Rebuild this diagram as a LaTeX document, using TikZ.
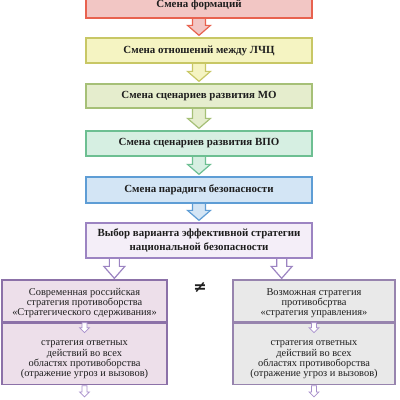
\documentclass[tikz,border=0pt]{standalone}
\usepackage{fontspec}
\setmainfont{Liberation Serif}
\newfontfamily\symfnt{DejaVu Sans}
\usetikzlibrary{calc,backgrounds}
\definecolor{aF}{HTML}{F2C6C4}\definecolor{aD}{HTML}{E8624F}
\definecolor{bF}{HTML}{F5F4C2}\definecolor{bD}{HTML}{C8C765}
\definecolor{cF}{HTML}{E5EDCD}\definecolor{cD}{HTML}{A6C077}
\definecolor{dF}{HTML}{D6EFE2}\definecolor{dD}{HTML}{6DBF92}
\definecolor{eF}{HTML}{D3E5F5}\definecolor{eD}{HTML}{5E9DD5}
\definecolor{fF}{HTML}{F4EEF8}\definecolor{fD}{HTML}{9C84C2}
\definecolor{lF}{HTML}{EDDFEA}\definecolor{lD}{HTML}{8C71A8}
\definecolor{rF}{HTML}{E9E9E9}\definecolor{rD}{HTML}{9784AE}
\definecolor{sD}{HTML}{A890CC}
\definecolor{txt}{HTML}{1E1E1E}
\newcommand\barrow[6]{\path[#3] let \p1=(#1), \p2=(#2) in
  (\x1-#4,\y1) -- (\x1+#4,\y1) -- (\x1+#4,\y2+#6) -- (\x1+#5,\y2+#6) --
  (\x1,\y2) -- (\x1-#5,\y2+#6) -- (\x1-#4,\y2+#6) -- cycle;}
\tikzset{
  topbox/.style={rectangle, minimum width=226pt, line width=1.3pt, inner sep=0pt,
    align=center, text=txt, font=\bfseries\fontsize{10.9}{14}\selectfont},
  lowbox/.style={rectangle, line width=1.3pt, inner sep=0pt},
  lowtext/.style={inner sep=0pt, align=center, text=txt, font=\fontsize{10.4}{10.2}\selectfont},
  bigarr/.style={line width=1.2pt, line join=miter},
  smallarr/.style={draw=sD, fill=white, line width=0.7pt, line join=miter}
}
\begin{document}
\begin{tikzpicture}[x=1pt,y=-1pt]
\useasboundingbox (0,0) rectangle (400,400);
\node[topbox, draw=aD, fill=aF, minimum height=26pt] (b1) at (199,5) {Смена формаций};
\node[topbox, draw=bD, fill=bF, minimum height=25pt] (b2) at (199,50.5) {Смена отношений между ЛЧЦ};
\node[topbox, draw=cD, fill=cF, minimum height=24pt] (b3) at (199,96) {Смена сценариев развития МО};
\node[topbox, draw=dD, fill=dF, minimum height=25pt] (b4) at (199,143.5) {Смена сценариев развития ВПО};
\node[topbox, draw=eD, fill=eF, minimum height=26pt] (b5) at (199,190) {Смена парадигм безопасности};
\node[topbox, draw=fD, fill=fF, minimum height=35pt] (b6) at (199,240.5) {Выбор варианта эффективной стратегии\\национальной безопасности};
\node[lowbox, draw=lD, fill=lF, minimum width=165pt, minimum height=42pt] (L1) at (84.5,301) {};
\node[lowbox, draw=lD, fill=lF, minimum width=165pt, minimum height=61pt, anchor=north] (L2) at (L1.south) {};
\node[lowbox, draw=rD, fill=rF, minimum width=162pt, minimum height=42pt] (R1) at (314,301) {};
\node[lowbox, draw=rD, fill=rF, minimum width=162pt, minimum height=61pt, anchor=north] (R2) at (R1.south) {};
\node[lowtext] (L1t) at ([yshift=-2pt]L1.center) {Современная российская\\стратегия противоборства\\«Стратегического сдерживания»};
\node[lowtext] (L2t) at ([yshift=-6pt]L2.center) {стратегия ответных\\действий во всех\\областях противоборства\\(отражение угроз и вызовов)};
\node[lowtext] (R1t) at ([yshift=-2pt]R1.center) {Возможная стратегия\\противобсртва\\«стратегия управления»};
\node[lowtext] (R2t) at ([yshift=-6pt]R2.center) {стратегия ответных\\действий во всех\\областях противоборства\\(отражение угроз и вызовов)};
\node[text=txt, font=\symfnt\bfseries\fontsize{16}{16}\selectfont] (neq) at (200,287) {≠};
\coordinate (s1) at ([xshift=29pt]b6.south west);
\coordinate (s2) at ([xshift=-31pt]b6.south east);
\coordinate (e1) at ([yshift=-12pt]L2.south);
\coordinate (e2) at ([yshift=-12pt]R2.south);
\begin{scope}[on background layer]
\fill[white] (0,0) rectangle (400,400);
\barrow{[yshift=2pt]b1.south}{[yshift=2pt]b2.north}{bigarr,draw=aD,fill=aF}{6.5pt}{11.5pt}{10pt}
\barrow{[yshift=2pt]b2.south}{[yshift=2pt]b3.north}{bigarr,draw=bD,fill=bF}{6.5pt}{11.5pt}{10pt}
\barrow{[yshift=2pt]b3.south}{[yshift=2pt]b4.north}{bigarr,draw=cD,fill=cF}{6.5pt}{11.5pt}{10pt}
\barrow{[yshift=2pt]b4.south}{[yshift=2pt]b5.north}{bigarr,draw=dD,fill=dF}{6.5pt}{11.5pt}{10pt}
\barrow{[yshift=2pt]b5.south}{[yshift=2pt]b6.north}{bigarr,draw=eD,fill=eF}{6.5pt}{11.5pt}{10pt}
\barrow{[yshift=2pt]s1}{[yshift=1pt]s1 |- L1.north}{bigarr,draw=fD,fill=white}{5pt}{10.5pt}{12pt}
\barrow{[yshift=2pt]s2}{[yshift=1pt]s2 |- R1.north}{bigarr,draw=fD,fill=white}{5pt}{10.5pt}{12pt}
\end{scope}
\barrow{L1.south}{[yshift=-10pt]L1.south}{smallarr}{2.5pt}{5pt}{5pt}
\barrow{R1.south}{[yshift=-10pt]R1.south}{smallarr}{2.5pt}{5pt}{5pt}
\barrow{[yshift=-0.7pt]L2.south}{e1}{smallarr}{2.5pt}{5pt}{5pt}
\barrow{[yshift=-0.7pt]R2.south}{e2}{smallarr}{2.5pt}{5pt}{5pt}
\end{tikzpicture}
\end{document}
